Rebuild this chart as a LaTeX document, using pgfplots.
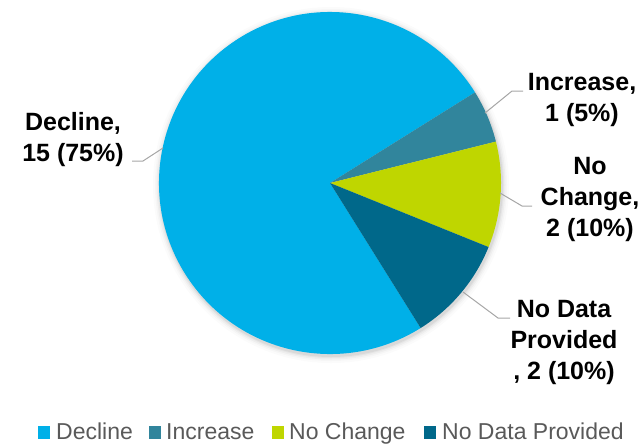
\documentclass[border=0pt]{standalone}
\usepackage{pgfplots}
\pgfplotsset{compat=1.18}
\usepackage{pgfplotstable}
\usepackage{fontspec}
\setmainfont{Liberation Sans}
\definecolor{cDecl}{RGB}{0,176,232}
\definecolor{cInc}{RGB}{49,133,156}
\definecolor{cNoCh}{RGB}{191,214,0}
\definecolor{cNoData}{RGB}{0,104,138}
\definecolor{cLead}{RGB}{166,166,166}
\definecolor{cLeg}{RGB}{89,89,89}

\pgfplotstableread{
label value
Decline 15
Increase 1
NoChange 2
NoData 2
}\piedata

\begin{document}
% cumulative angles (clockwise, starting at 302 degrees)
\pgfplotstablegetelem{0}{value}\of\piedata \global\let\vA\pgfplotsretval
\pgfplotstablegetelem{1}{value}\of\piedata \global\let\vB\pgfplotsretval
\pgfplotstablegetelem{2}{value}\of\piedata \global\let\vC\pgfplotsretval
\pgfplotstablegetelem{3}{value}\of\piedata \global\let\vD\pgfplotsretval
\pgfmathsetmacro{\tot}{\vA+\vB+\vC+\vD}\global\let\tot\tot
\pgfmathsetmacro{\aA}{302}\global\let\aA\aA
\pgfmathsetmacro{\aB}{\aA-360*\vA/\tot}\global\let\aB\aB
\pgfmathsetmacro{\aC}{\aB-360*\vB/\tot}\global\let\aC\aC
\pgfmathsetmacro{\aD}{\aC-360*\vC/\tot}\global\let\aD\aD
\pgfmathsetmacro{\aE}{\aD-360*\vD/\tot}\global\let\aE\aE
\begin{tikzpicture}
\begin{axis}[
  at={(0,0)}, anchor=south west,
  scale only axis, width=644pt, height=445pt,
  xmin=0, xmax=644, ymin=0, ymax=445, y dir=reverse,
  hide axis, clip=false,
]
% soft shadow
\fill[black,opacity=0.015] (axis cs:331,185) circle[radius=178pt];
\fill[black,opacity=0.02] (axis cs:331,185) circle[radius=176pt];
\fill[black,opacity=0.03] (axis cs:331,185) circle[radius=174.5pt];
\fill[black,opacity=0.04] (axis cs:331,185) circle[radius=173pt];
\fill[black,opacity=0.05] (axis cs:331,185) circle[radius=172pt];
% wedges
\fill[cDecl]   (axis cs:330,183) -- ++(\aA:171pt) arc[start angle=\aA, end angle=\aB, radius=171pt] -- cycle;
\fill[cInc]    (axis cs:330,183) -- ++(\aB:171pt) arc[start angle=\aB, end angle=\aC, radius=171pt] -- cycle;
\fill[cNoCh]   (axis cs:330,183) -- ++(\aC:171pt) arc[start angle=\aC, end angle=\aD, radius=171pt] -- cycle;
\fill[cNoData] (axis cs:330,183) -- ++(\aD:171pt) arc[start angle=\aD, end angle=\aE, radius=171pt] -- cycle;
% leader lines
\draw[cLead, line width=1pt] (axis cs:132,161) -- (axis cs:143,161) -- (axis cs:163,148);
\draw[cLead, line width=1pt] (axis cs:485,113) -- (axis cs:512,91) -- (axis cs:523,91);
\draw[cLead, line width=1pt] (axis cs:500,193) -- (axis cs:522,206) -- (axis cs:532,206);
\draw[cLead, line width=1pt] (axis cs:463,292) -- (axis cs:498,318) -- (axis cs:510,318);
% data labels
\begin{scope}[every node/.style={inner sep=0pt, align=center, anchor=north, font=\fontsize{25}{31}\selectfont\bfseries}]
\node at (axis cs:73,112) {Decline,\\15 (75\%)};
\node at (axis cs:582,73) {Increase,\\1 (5\%)};
\node at (axis cs:590,157) {No\\Change,\\2 (10\%)};
\node at (axis cs:564,300) {No Data\\Provided\\, 2 (10\%)};
\end{scope}
% legend
\begin{scope}[every node/.style={inner sep=0pt, anchor=base west, text=cLeg, font=\fontsize{23}{27}\selectfont}]
\fill[cDecl]   (axis cs:38,426) rectangle (axis cs:50,439);
\node at (axis cs:56,439.5) {Decline};
\fill[cInc]    (axis cs:149,426) rectangle (axis cs:161,439);
\node at (axis cs:166,439.5) {Increase};
\fill[cNoCh]   (axis cs:272,426) rectangle (axis cs:284,439);
\node at (axis cs:289,439.5) {No Change};
\fill[cNoData] (axis cs:424,426) rectangle (axis cs:436,439);
\node at (axis cs:442,439.5) {No Data Provided};
\end{scope}
\end{axis}
\pgfresetboundingbox
\useasboundingbox (0,0) rectangle (644pt,445pt);
\end{tikzpicture}
\end{document}
